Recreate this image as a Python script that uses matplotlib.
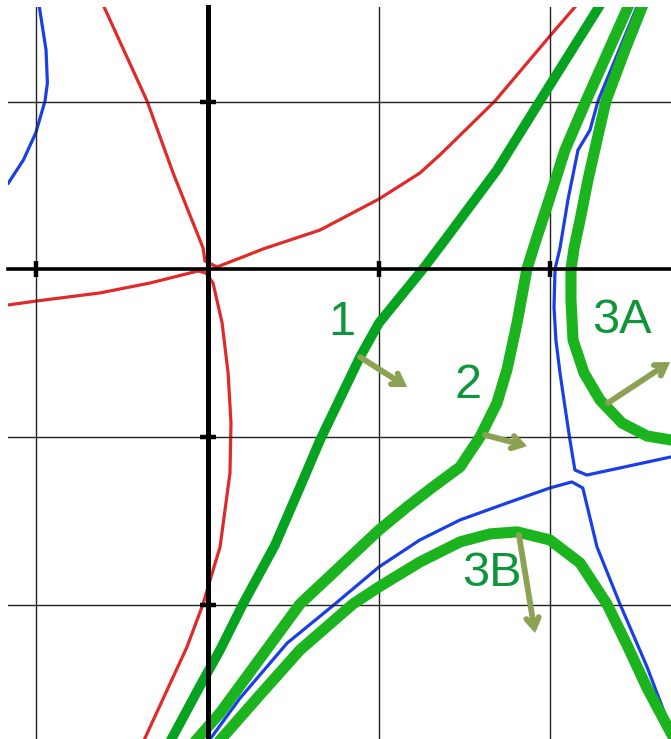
import matplotlib
matplotlib.use("Agg")
import matplotlib.pyplot as plt
import matplotlib.patheffects as pe

# curves, in grid units (one grid square = 1)
red_a_x = [-1.165, -0.997, -0.628, -0.336, -0.055, -0.009, 0.032, 0.085, 0.120, 0.137, 0.131, 0.073, 0.015, -0.026, -0.120, -0.236, -0.365]
red_a_y = [-0.213, -0.189, -0.141, -0.082, -0.010, -0.022, -0.082, -0.320, -0.618, -0.917, -1.215, -1.656, -1.853, -1.996, -2.252, -2.509, -2.795]

red_b_x = [-0.604, -0.353, -0.201, -0.026, -0.015, 0.055, 0.190, 0.324, 0.657, 1.001, 1.240, 1.357, 1.678, 1.999, 2.145]
red_b_y = [1.564, 1.003, 0.574, 0.127, 0.049, 0.014, 0.067, 0.121, 0.234, 0.419, 0.574, 0.682, 1.003, 1.391, 1.564]

blue_tl_x = [-0.982, -0.943, -0.935, -0.949, -1.003, -1.075, -1.163]
blue_tl_y = [1.564, 1.308, 1.111, 1.003, 0.813, 0.652, 0.514]

blue_up_x = [2.507, 2.280, 2.233, 2.163, 2.104, 2.058, 2.029, 2.023, 2.034, 2.058, 2.087, 2.116, 2.145, 2.215, 2.706]
blue_up_y = [1.564, 1.004, 0.830, 0.711, 0.413, 0.127, 0.002, -0.225, -0.422, -0.618, -0.821, -1.018, -1.197, -1.227, -1.119]

blue_lo_x = [0.020, 0.190, 0.465, 0.744, 1.001, 1.240, 1.474, 1.748, 1.999, 2.127, 2.191, 2.274, 2.408, 2.566, 2.706]
blue_lo_y = [-2.795, -2.557, -2.229, -1.996, -1.775, -1.614, -1.495, -1.394, -1.304, -1.268, -1.304, -1.656, -1.996, -2.371, -2.747]

c1_x = [-0.207, -0.044, 0.073, 0.207, 0.394, 0.558, 0.657, 0.890, 1.001, 1.258, 1.386, 1.690, 1.941, 2.285]
c1_y = [-2.795, -2.485, -2.270, -1.996, -1.644, -1.256, -1.018, -0.523, -0.320, 0.002, 0.175, 0.592, 1.004, 1.564]

c2_x = [-0.055, 0.073, 0.540, 1.001, 1.165, 1.316, 1.474, 1.591, 1.690, 1.748, 1.807, 1.865, 1.918, 1.994, 2.087, 2.210, 2.455]
c2_y = [-2.795, -2.646, -1.996, -1.555, -1.417, -1.298, -1.179, -1.000, -0.797, -0.600, -0.320, 0.002, 0.175, 0.413, 0.711, 1.004, 1.564]

c3a_x = [2.537, 2.437, 2.326, 2.274, 2.221, 2.175, 2.140, 2.122, 2.122, 2.134, 2.198, 2.291, 2.420, 2.566, 2.706]
c3a_y = [1.564, 1.308, 1.004, 0.771, 0.532, 0.294, 0.127, 0.002, -0.183, -0.422, -0.618, -0.779, -0.917, -0.994, -1.018]

c3b_x = [0.085, 0.306, 0.540, 0.849, 1.001, 1.241, 1.474, 1.649, 1.807, 1.999, 2.175, 2.332, 2.449, 2.566, 2.706]
c3b_y = [-2.795, -2.538, -2.270, -1.996, -1.894, -1.745, -1.626, -1.578, -1.566, -1.614, -1.751, -1.996, -2.240, -2.497, -2.765]

# arrows: (start, end) and labels
arrows = {
    "1": ((0.890, -0.523), (1.165, -0.702)),
    "2": ((1.620, -0.988), (1.865, -1.054)),
    "3A": ((2.338, -0.797), (2.700, -0.553)),
    "3B": ((1.818, -1.584), (1.912, -2.169)),
}
labels = {"1": (0.785, -0.320), "2": (1.521, -0.696), "3A": (2.420, -0.308), "3B": (1.661, -1.817)}

RED = "#E02A2A"
BLUE = "#1B3FE6"
DARK_GREEN = "#05A31F"
GREEN = "#1CB41E"
OLIVE = "#8CA252"
TEXT_GREEN = "#10963A"

fig = plt.figure(figsize=(6.71, 7.39), dpi=100)
ax = fig.add_axes([8 / 671, 0, 663 / 671, 732 / 739])
ax.set_xlim(-1.165, 2.706)
ax.set_ylim(-2.801, 1.564)

for cx, cy in [(red_a_x, red_a_y), (red_b_x, red_b_y)]:
    ax.plot(cx, cy, color=RED, lw=2.3, solid_joinstyle="round", zorder=2)
for cx, cy in [(blue_tl_x, blue_tl_y), (blue_up_x, blue_up_y), (blue_lo_x, blue_lo_y)]:
    ax.plot(cx, cy, color=BLUE, lw=2.3, solid_joinstyle="round", zorder=2)

ax.plot(c1_x, c1_y, color=DARK_GREEN, lw=7, solid_joinstyle="round", zorder=3)
for cx, cy in [(c2_x, c2_y), (c3a_x, c3a_y), (c3b_x, c3b_y)]:
    ax.plot(cx, cy, color=GREEN, lw=8, solid_joinstyle="round", zorder=3)

# axes through the origin, grid over the curves
for side in ["top", "right"]:
    ax.spines[side].set_visible(False)
ax.spines["left"].set_position(("data", 0))
ax.spines["bottom"].set_position(("data", 0))
ax.spines["left"].set_linewidth(3.6)
ax.spines["bottom"].set_linewidth(2.6)
ax.spines["left"].set_zorder(4)
ax.spines["bottom"].set_zorder(4)
ax.set_xticks([-1, 1, 2])
ax.set_yticks([1, -1, -2])
ax.tick_params(direction="inout", length=12, width=3.2, color="black",
               labelbottom=False, labelleft=False)
ax.grid(True, color="#222222", lw=1.0, zorder=4)
ax.set_axisbelow(False)

shadow = [pe.SimplePatchShadow(offset=(1.5, -2), shadow_rgbFace="#999999", alpha=0.35), pe.Normal()]
for key, (start, end) in arrows.items():
    ann = ax.annotate("", xy=end, xytext=start, zorder=6,
                      arrowprops=dict(arrowstyle="->,head_length=0.7,head_width=0.45",
                                      color=OLIVE, lw=4.2, shrinkA=0, shrinkB=0,
                                      capstyle="round", joinstyle="miter"))
    ann.arrow_patch.set_path_effects(shadow)

for key, (tx, ty) in labels.items():
    ax.text(tx, ty, key, color=TEXT_GREEN, fontsize=35, family="Liberation Sans",
            ha="center", va="center", zorder=7)

fig.savefig("out.png", dpi=100, facecolor="white")
